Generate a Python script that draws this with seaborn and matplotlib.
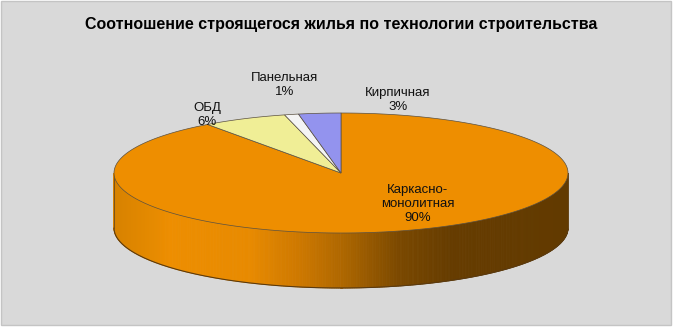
import numpy as np
import matplotlib
matplotlib.use("Agg")
import matplotlib.pyplot as plt
from matplotlib.patches import Rectangle, Polygon
import seaborn as sns

# ---- data ----
categories = ["Каркасно-\nмонолитная", "ОБД", "Панельная", "Кирпичная"]
values = [90, 6, 1, 3]
top_colors = ["#ee8e00", "#f0ee96", "#f4f4f4", "#9393ee"]
title = "Соотношение строящегося жилья по технологии строительства"

# label centres (pixel coords of figure)
label_pos = [(418, 204), (207, 115), (285, 85), (398, 100)]

sns.set_theme(style="white")
plt.rcParams["font.family"] = ["Liberation Sans", "DejaVu Sans"]

W, H = 678, 332
fig = plt.figure(figsize=(W / 100, H / 100), dpi=100, facecolor="white")
ax = fig.add_axes([0, 0, 1, 1])
ax.set_xlim(0, W)
ax.set_ylim(H, 0)
ax.axis("off")

ax.add_patch(Rectangle((1, 1), 670, 324, facecolor="#d9d9d9", edgecolor="#c4c4c4", lw=1, zorder=0))

# pie geometry
cx, cy, a, b, depth = 341, 173, 227, 60, 55

def pt(theta):
    return cx + a * np.sin(theta), cy - b * np.cos(theta)

# side (front half) with gradient shading
stops_x = [114, 170, 250, 300, 340, 400, 450, 568]
stops_c = np.array([(215, 130, 0), (238, 142, 0), (232, 138, 0), (205, 120, 0),
                    (176, 104, 0), (122, 72, 0), (102, 60, 0), (98, 58, 0)]) / 255.0
th = np.linspace(np.pi / 2, 3 * np.pi / 2, 400)
for t0, t1 in zip(th[:-1], th[1:]):
    x0, y0 = pt(t0)
    x1, y1 = pt(t1)
    xm = 0.5 * (x0 + x1)
    col = [np.interp(xm, stops_x, stops_c[:, k]) for k in range(3)]
    ax.add_patch(Polygon([(x0, y0), (x1, y1), (x1, y1 + depth), (x0, y0 + depth)],
                         closed=True, facecolor=col, edgecolor=col, lw=0.6, zorder=1))
xs, ys = pt(th)
ax.plot(xs, ys + depth, color="#5a3a10", lw=0.8, zorder=2)
for t in (np.pi / 2, 3 * np.pi / 2):
    x, y = pt(t)
    ax.plot([x, x], [y, y + depth], color="#6a4a20", lw=0.6, zorder=2)

# top surface slices, clockwise from 12 o'clock
total = float(sum(values))
start = 0.0
for v, c in zip(values, top_colors):
    span = v / total * 2 * np.pi
    t = np.linspace(start, start + span, max(4, int(span * 120)))
    px, py = pt(t)
    verts = [(cx, cy)] + list(zip(px, py))
    ax.add_patch(Polygon(verts, closed=True, facecolor=c, edgecolor="#5a5040",
                         lw=0.5, zorder=3))
    start += span

# labels
for name, v, (lx, ly) in zip(categories, values, label_pos):
    ax.text(lx, ly, f"{name}\n{v}%", ha="center", va="center", fontsize=9.5,
            color="#111111", linespacing=1.22, zorder=5)

ax.text(341, 24, title, ha="center", va="center", fontsize=11.5, fontweight="bold",
        color="black", family=["Liberation Sans Narrow", "Liberation Sans", "DejaVu Sans"], zorder=5)

fig.savefig("out.png", dpi=100, facecolor="white")
